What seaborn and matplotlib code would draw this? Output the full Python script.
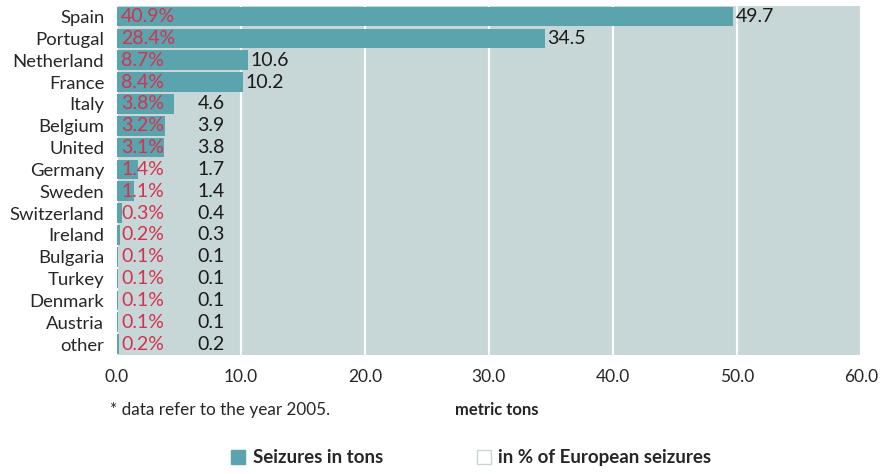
import matplotlib
matplotlib.use("Agg")
import matplotlib.pyplot as plt
from matplotlib.patches import Patch
import seaborn as sns
import pandas as pd

countries = ["Spain", "Portugal", "Netherland", "France", "Italy", "Belgium", "United",
             "Germany", "Sweden", "Switzerland", "Ireland", "Bulgaria", "Turkey",
             "Denmark", "Austria", "other"]
tons = [49.7, 34.5, 10.6, 10.2, 4.6, 3.9, 3.8, 1.7, 1.4, 0.4, 0.3, 0.1, 0.1, 0.1, 0.1, 0.2]
pct_labels = ["40.9%", "28.4%", "8.7%", "8.4%", "3.8%", "3.2%", "3.1%", "1.4%", "1.1%",
              "0.3%", "0.2%", "0.1%", "0.1%", "0.1%", "0.1%", "0.2%"]
ton_labels = ["49.7", "34.5", "10.6", "10.2", "4.6", "3.9", "3.8", "1.7", "1.4",
              "0.4", "0.3", "0.1", "0.1", "0.1", "0.1", "0.2"]
x_ticks = [0, 10, 20, 30, 40, 50, 60]

df = pd.DataFrame({"country": countries, "tons": tons})

sns.set_theme(style="white")
plt.rcParams["font.family"] = ["Lato", "DejaVu Sans"]

bar_color = "#5ba3ad"
bg_color = "#c7d7d7"
pct_color = "#d2334f"

fig = plt.figure(figsize=(8.84, 4.74), dpi=100)
ax = fig.add_axes([0.132, 0.251, 0.842, 0.737])
ax.set_facecolor(bg_color)

sns.barplot(data=df, x="tons", y="country", orient="h", color=bar_color,
            saturation=1, width=0.9, linewidth=0, ax=ax, zorder=2)

ax.set_xlim(0, 60)
ax.set_ylim(len(countries) - 0.5, -0.5)
ax.set_xticks(x_ticks)
ax.set_xticklabels([f"{t:.1f}" for t in x_ticks], fontsize=12.5)
ax.xaxis.grid(True, color="white", linewidth=1.5, zorder=1)
ax.set_axisbelow(True)
ax.tick_params(axis="x", length=0, pad=10)
ax.tick_params(axis="y", length=3, color="#aaaaaa", labelsize=13.3, pad=6)
ax.set_xlabel("")
ax.set_ylabel("")
for s in ax.spines.values():
    s.set_visible(False)

for i, (v, p, t) in enumerate(zip(tons, pct_labels, ton_labels)):
    ax.text(0.35, i, p, color=pct_color, fontsize=14, va="center", ha="left", zorder=3)
    ax.text(max(v, 6.3) + 0.2, i, t, color="#1a1a1a", fontsize=14,
            va="center", ha="left", zorder=3)

fig.text(0.124, 0.135, "* data refer to the year 2005.", fontsize=12.3, ha="left", va="center")
fig.text(0.515, 0.135, "metric tons", fontsize=12, fontweight="bold", ha="left", va="center")

handles = [Patch(facecolor=bar_color, edgecolor=bar_color),
           Patch(facecolor="white", edgecolor=bg_color)]
fig.legend(handles, ["Seizures in tons", "in % of European seizures"],
           loc="center", bbox_to_anchor=(0.533, 0.034), ncol=2, frameon=False,
           prop={"weight": "bold", "size": 13.5}, handlelength=0.75, handleheight=0.75,
           handletextpad=0.4, columnspacing=5.0)

fig.savefig("out.png", dpi=100)
